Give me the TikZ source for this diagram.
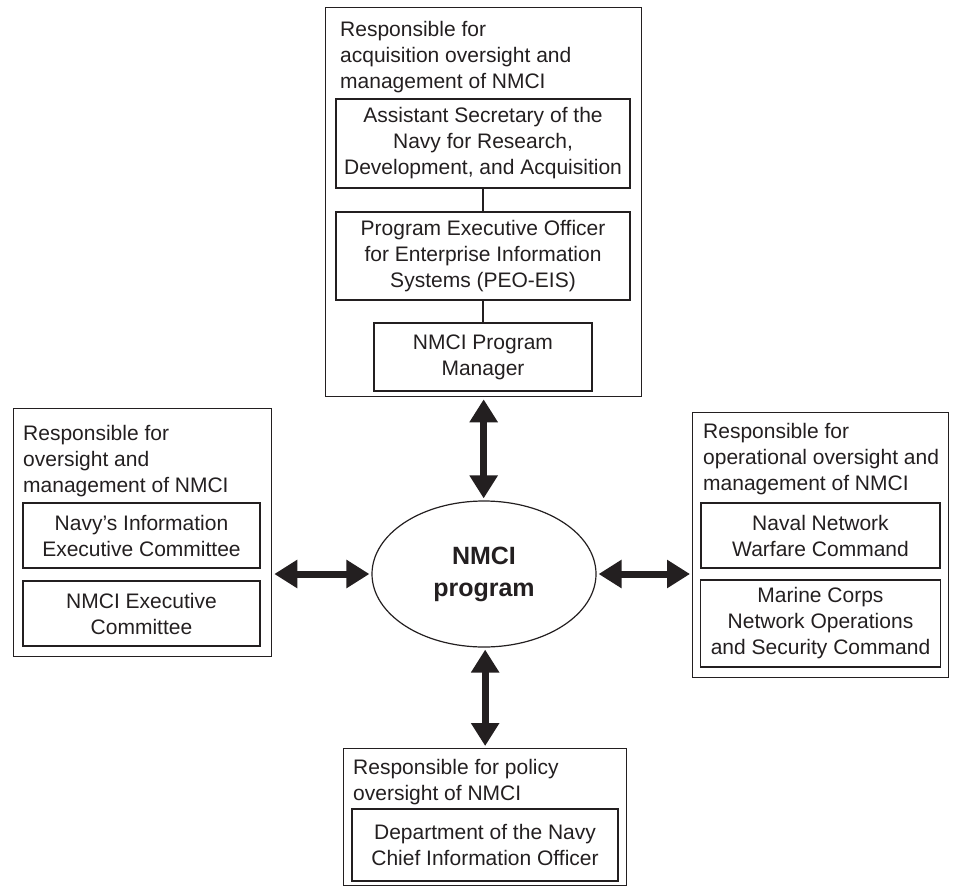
\documentclass[tikz,border=0pt]{standalone}
\usepackage{fontspec}
\setmainfont{Liberation Sans}
\usetikzlibrary{shapes.geometric,arrows.meta}
\definecolor{ink}{RGB}{35,31,32}
\begin{document}
\begin{tikzpicture}[x=1pt,y=-1pt,
  every node/.style={text=ink},
  obox/.style={draw=ink, line width=1.3pt, anchor=north west, inner sep=0pt},
  ibox/.style={draw=ink, line width=1.3pt, align=center, inner sep=0pt, font=\fontsize{21}{26}\selectfont},
  ttl/.style={anchor=north west, align=left, inner sep=0pt, font=\fontsize{21}{26}\selectfont},
  link/.style={draw=ink, line width=2pt},
  dbl/.style={draw=ink, line width=7pt, {Triangle[length=23pt,width=27pt]}-{Triangle[length=23pt,width=27pt]}, shorten <=2pt, shorten >=2pt}]
\useasboundingbox (0,0) rectangle (957,888);

% top group
\node[obox, minimum width=316pt, minimum height=389pt] (topbox) at (325,7) {};
\node[ttl] (toptitle) at (340,21) {Responsible for\\acquisition oversight and\\management of NMCI};
\node[ibox, minimum width=294pt, minimum height=89pt] (asn) at (483,143.5) {Assistant Secretary of the\\Navy for Research,\\Development, and Acquisition};
\node[ibox, minimum width=294pt, minimum height=88pt] (peo) at (483,256) {Program Executive Officer\\for Enterprise Information\\Systems (PEO-EIS)};
\node[ibox, minimum width=218pt, minimum height=68pt] (pm) at (483,357) {NMCI Program\\Manager};
\draw[link] (asn) -- (peo);
\draw[link] (peo) -- (pm);

% left group
\node[obox, minimum width=258pt, minimum height=248pt] (leftbox) at (13,408) {};
\node[ttl] (lefttitle) at (23,425) {Responsible for\\oversight and\\management of NMCI};
\node[ibox, minimum width=237pt, minimum height=65pt] (nav) at (141.5,535.5) {Navy’s Information\\Executive Committee};
\node[ibox, minimum width=237pt, minimum height=65pt] (nexc) at (141.5,613.5) {NMCI Executive\\Committee};

% right group
\node[obox, minimum width=256pt, minimum height=265pt] (rightbox) at (692,412) {};
\node[ttl] (righttitle) at (703,423) {Responsible for\\operational oversight and\\management of NMCI};
\node[ibox, minimum width=239pt, minimum height=65pt] (nnwc) at (820.5,535.5) {Naval Network\\Warfare Command};
\node[ibox, minimum width=240pt, minimum height=87pt] (mcn) at (820.5,623.5) {Marine Corps\\Network Operations\\and Security Command};

% bottom group
\node[obox, minimum width=283pt, minimum height=137pt] (botbox) at (343,748) {};
\node[ttl] (bottitle) at (353,759) {Responsible for policy\\oversight of NMCI};
\node[ibox, minimum width=266pt, minimum height=72pt] (dcio) at (485,845) {Department of the Navy\\Chief Information Officer};

% centre
\node[ellipse, draw=ink, line width=1.2pt, minimum width=224pt, minimum height=146pt, inner sep=0pt, align=center, font=\fontsize{25}{32}\selectfont\bfseries] (prog) at (484,574) {NMCI\\program};

% arrows
\draw[dbl] (topbox.south) -- (topbox.south |- prog.north);
\draw[dbl] (botbox.north) -- (botbox.north |- prog.south);
\draw[dbl] (leftbox.east |- prog.west) -- (prog.west);
\draw[dbl] (prog.east) -- (rightbox.west |- prog.east);
\end{tikzpicture}
\end{document}
